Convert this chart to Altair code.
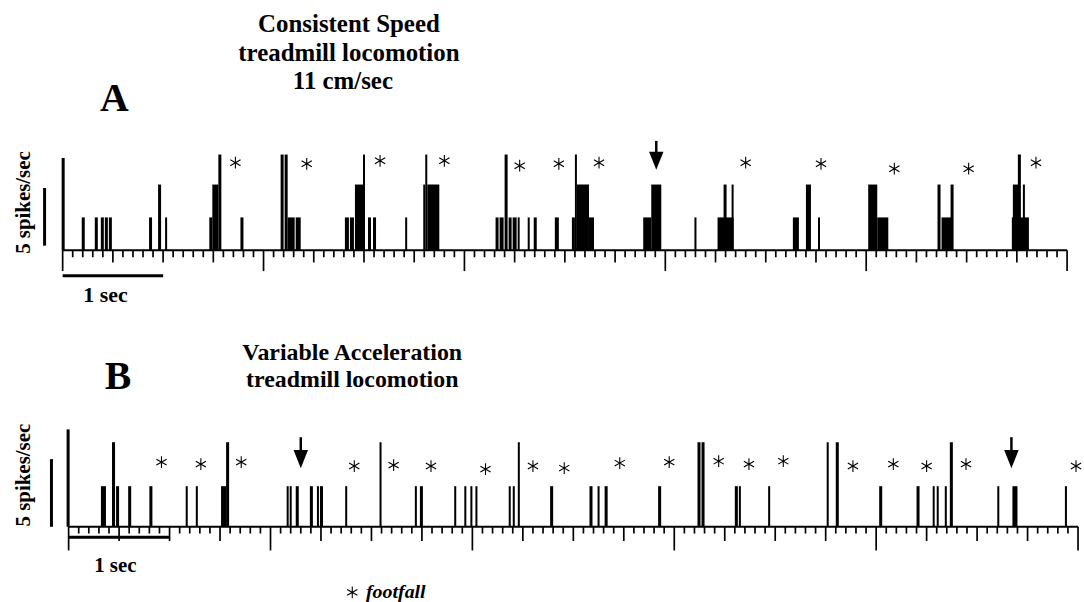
import altair as alt
import pandas as pd

FONT = "Liberation Serif"

# ---------------- Panel A : consistent speed (time in s, rate in spikes/s) -------------
A_ON = [-0.01, 0.19, 0.32, 0.38, 0.42, 0.46, 0.86, 0.95, 1.02, 1.46, 1.49, 1.55, 1.77,
        2.17, 2.21, 2.24, 2.32, 2.81, 2.86, 2.91, 2.99, 3.04, 3.09, 3.41, 3.59, 3.61,
        3.63, 4.31, 4.35, 4.40, 4.44, 4.48, 4.53, 4.63, 4.69, 4.90, 5.07, 5.10, 5.12,
        5.24, 5.78, 5.86, 6.29, 6.52, 6.58, 6.66, 7.27, 7.40, 7.52, 8.02, 8.11, 8.71,
        8.75, 8.84, 9.45, 9.46, 9.51, 9.56]
A_OFF = [0.02, 0.22, 0.35, 0.41, 0.45, 0.49, 0.89, 0.98, 1.04, 1.49, 1.55, 1.58, 1.80,
         2.20, 2.24, 2.31, 2.37, 2.85, 2.90, 2.99, 3.01, 3.07, 3.12, 3.43, 3.61, 3.63,
         3.75, 4.34, 4.39, 4.43, 4.47, 4.52, 4.55, 4.65, 4.72, 4.94, 5.10, 5.12, 5.24,
         5.29, 5.86, 5.96, 6.31, 6.68, 6.61, 6.68, 7.33, 7.45, 7.54, 8.11, 8.22, 8.74,
         8.85, 8.87, 9.62, 9.52, 9.54, 9.58]
A_RATE = [8.0, 2.85, 2.85, 2.85, 2.85, 2.85, 2.85, 5.7, 2.85, 2.85, 5.7, 8.3, 2.85,
          8.3, 8.3, 2.85, 2.85, 2.85, 2.85, 5.7, 8.3, 2.85, 2.85, 2.85, 5.7, 8.3,
          5.7, 2.85, 2.85, 8.3, 2.85, 2.85, 2.85, 2.85, 2.85, 2.85, 2.85, 8.3, 5.7,
          2.85, 2.85, 5.7, 2.85, 2.85, 5.7, 5.7, 2.85, 5.7, 2.85, 5.7, 2.85, 5.7,
          2.85, 5.7, 2.85, 5.7, 8.3, 5.7]
A_FOOT_T = [1.72, 2.43, 3.16, 3.80, 4.55, 4.94, 5.34, 6.80, 7.55, 8.28, 9.02, 9.69]
A_FOOT_Y = [7.59, 7.50, 7.76, 7.76, 7.33, 7.50, 7.59, 7.59, 7.50, 7.07, 7.07, 7.59]
A_ARROW_T = [5.91]

# ---------------- Panel B : variable acceleration -------------
B_ON = [-0.02, 0.32, 0.43, 0.47, 0.59, 0.80, 1.16, 1.26, 1.51, 1.56, 2.16, 2.19, 2.25,
        2.39, 2.46, 2.49, 2.74, 3.08, 3.43, 3.48, 3.82, 3.92, 3.98, 4.03, 4.36, 4.40,
        4.45, 4.77, 5.16, 5.24, 5.31, 5.84, 6.23, 6.27, 6.60, 6.64, 6.93, 7.51, 7.60,
        8.03, 8.40, 8.56, 8.60, 8.68, 8.73, 9.20, 9.35, 9.87]
B_OFF = [0.01, 0.37, 0.46, 0.50, 0.62, 0.83, 1.18, 1.28, 1.56, 1.59, 2.18, 2.21, 2.28,
         2.42, 2.48, 2.52, 2.76, 3.10, 3.45, 3.51, 3.84, 3.94, 4.00, 4.05, 4.38, 4.42,
         4.47, 4.80, 5.19, 5.26, 5.34, 5.87, 6.26, 6.30, 6.63, 6.66, 6.95, 7.53, 7.63,
         8.06, 8.43, 8.58, 8.62, 8.70, 8.76, 9.22, 9.40, 9.89]
B_RATE = [7.2, 3.0, 6.25, 3.0, 3.0, 3.0, 3.0, 3.0, 3.0, 6.25, 3.0, 3.0, 3.0,
          3.0, 3.0, 3.0, 3.0, 6.25, 3.0, 3.0, 3.0, 3.0, 3.0, 3.0, 3.0, 3.0,
          6.25, 3.0, 3.0, 3.0, 3.0, 3.0, 6.25, 6.25, 3.0, 3.0, 3.0, 6.25, 6.25,
          3.0, 3.0, 3.0, 3.0, 3.0, 6.25, 3.0, 3.0, 3.0]
B_FOOT_T = [0.92, 1.31, 1.71, 2.83, 3.22, 3.59, 4.13, 4.60, 4.91, 5.46, 5.95, 6.44,
            6.74, 7.08, 7.77, 8.17, 8.50, 8.89, 9.98]
B_FOOT_Y = [4.78, 4.63, 4.78, 4.49, 4.56, 4.49, 4.26, 4.49, 4.34, 4.71, 4.78, 4.85,
            4.63, 4.85, 4.49, 4.63, 4.49, 4.63, 4.49]
B_ARROW_T = [2.30, 9.34]

# time-base tick grid (0.1 s)
TICK_T = [round(i / 10, 1) for i in range(101)]

ASTERISK = "M0,-1L0,1M-0.87,-0.5L0.87,0.5M-0.87,0.5L0.87,-0.5"
ARROWHEAD = "M-0.8,-1L0.8,-1L0,1Z"


def tick_len(t, small, med, long):
    if abs(t / 2 - round(t / 2)) < 1e-6:
        return long
    if abs(t * 2 - round(t * 2)) < 1e-6:
        return med
    return small


def star_layer(df, xs, ys):
    return alt.Chart(df).mark_point(shape=ASTERISK, filled=False, color="black",
                                    strokeWidth=1.1, size=140, opacity=1).encode(
        x=alt.X("t:Q", scale=xs, axis=None), y=alt.Y("y:Q", scale=ys, axis=None))


def build_panel(on, off, rate, foot_t, foot_y, arrow_t, xdom, ydom, w, h,
                tick_sizes, trace_end, sbar_y, vbar_t, vbar_y, arrow_geo, texts,
                extra=None):
    xs = alt.Scale(domain=xdom, nice=False, zero=False)
    ys = alt.Scale(domain=ydom, nice=False, zero=False)

    spikes = pd.DataFrame({"t0": on, "t1": off, "rate": rate, "z": 0.0})
    bars = alt.Chart(spikes).mark_rect(color="black").encode(
        x=alt.X("t0:Q", scale=xs, axis=None), x2="t1:Q",
        y=alt.Y("z:Q", scale=ys, axis=None), y2="rate:Q")

    base_df = pd.DataFrame({"a": [0.0], "b": [trace_end], "y": [0.0]})
    base = alt.Chart(base_df).mark_rule(color="black", strokeWidth=2).encode(
        x=alt.X("a:Q", scale=xs, axis=None), x2="b:Q",
        y=alt.Y("y:Q", scale=ys, axis=None))

    tdf = pd.DataFrame({"t": TICK_T,
                        "y0": [0.0] * len(TICK_T),
                        "y1": [-tick_len(t, *tick_sizes) for t in TICK_T]})
    ticks = alt.Chart(tdf).mark_rule(color="black", strokeWidth=1.7).encode(
        x=alt.X("t:Q", scale=xs, axis=None),
        y=alt.Y("y0:Q", scale=ys, axis=None), y2="y1:Q")

    # 1-second horizontal bar and 5 spikes/sec vertical bar
    sb = pd.DataFrame({"a": [0.0], "b": [1.0], "y": [sbar_y]})
    sbar = alt.Chart(sb).mark_rule(color="black", strokeWidth=3).encode(
        x=alt.X("a:Q", scale=xs, axis=None), x2="b:Q",
        y=alt.Y("y:Q", scale=ys, axis=None))
    vb = pd.DataFrame({"t": [vbar_t], "y0": [vbar_y], "y1": [vbar_y + 5.0]})
    vbar = alt.Chart(vb).mark_rule(color="black", strokeWidth=3).encode(
        x=alt.X("t:Q", scale=xs, axis=None),
        y=alt.Y("y0:Q", scale=ys, axis=None), y2="y1:Q")

    feet = star_layer(pd.DataFrame({"t": foot_t, "y": foot_y}), xs, ys)

    shaft_top, shaft_bot, head_y = arrow_geo
    adf = pd.DataFrame({"t": arrow_t, "s0": [shaft_top] * len(arrow_t),
                        "s1": [shaft_bot] * len(arrow_t), "h": [head_y] * len(arrow_t)})
    shaft = alt.Chart(adf).mark_rule(color="black", strokeWidth=2.5).encode(
        x=alt.X("t:Q", scale=xs, axis=None),
        y=alt.Y("s0:Q", scale=ys, axis=None), y2="s1:Q")
    head = alt.Chart(adf).mark_point(shape=ARROWHEAD, filled=True, color="black",
                                       size=330, opacity=1).encode(
        x=alt.X("t:Q", scale=xs, axis=None), y=alt.Y("h:Q", scale=ys, axis=None))

    layers = [bars, base, ticks, sbar, vbar, feet, shaft, head]
    for spec in texts:
        d = pd.DataFrame({"t": [spec["t"]], "y": [spec["y"]], "label": [spec["text"]]})
        layers.append(alt.Chart(d).mark_text(
            font=FONT, fontWeight="bold", fontSize=spec["size"], color="black",
            align=spec.get("align", "center"), baseline=spec.get("baseline", "alphabetic"),
            angle=spec.get("angle", 0), fontStyle=spec.get("style", "normal")).encode(
            x=alt.X("t:Q", scale=xs, axis=None), y=alt.Y("y:Q", scale=ys, axis=None),
            text="label:N"))
    if extra is not None:
        layers.append(star_layer(pd.DataFrame({"t": [e[0] for e in extra],
                                               "y": [e[1] for e in extra]}), xs, ys))
    return alt.layer(*layers).properties(width=w, height=h)


A_TEXTS = [
    {"text": "Consistent Speed", "t": 2.85, "y": 18.88, "size": 25},
    {"text": "treadmill locomotion", "t": 2.85, "y": 16.38, "size": 25},
    {"text": "11 cm/sec", "t": 2.79, "y": 13.97, "size": 25},
    {"text": "A", "t": 0.515, "y": 12.07, "size": 40},
    {"text": "1 sec", "t": 0.426, "y": -4.48, "size": 22},
    {"text": "5 spikes/sec", "t": -0.386, "y": 4.14, "size": 21, "angle": 270,
     "baseline": "middle"},
]
B_TEXTS = [
    {"text": "Variable Acceleration", "t": 2.81, "y": 12.35, "size": 24},
    {"text": "treadmill locomotion", "t": 2.81, "y": 10.37, "size": 24},
    {"text": "B", "t": 0.49, "y": 10.15, "size": 40},
    {"text": "1 sec", "t": 0.463, "y": -3.31, "size": 21},
    {"text": "5 spikes/sec", "t": -0.443, "y": 3.82, "size": 21, "angle": 270,
     "baseline": "middle"},
    {"text": "footfall", "t": 2.946, "y": -5.29, "size": 20, "align": "left",
     "style": "italic"},
]

panel_a = build_panel(A_ON, A_OFF, A_RATE, A_FOOT_T, A_FOOT_Y, A_ARROW_T,
                      xdom=[-0.6238, 10.109], ydom=[-5.17, 21.55], w=1084, h=310,
                      tick_sizes=(0.6, 1.05, 1.8), trace_end=10.0, sbar_y=-2.2,
                      vbar_t=-0.18, vbar_y=0.4, arrow_geo=(9.48, 8.45, 7.76),
                      texts=A_TEXTS)
panel_b = build_panel(B_ON, B_OFF, B_RATE, B_FOOT_T, B_FOOT_Y, B_ARROW_T,
                      xdom=[-0.6798, 10.0], ydom=[-5.44, 16.03], w=1084, h=292,
                      tick_sizes=(0.5, 1.05, 1.75), trace_end=10.0, sbar_y=-0.77,
                      vbar_t=-0.17, vbar_y=0.0, arrow_geo=(6.62, 5.59, 5.0),
                      texts=B_TEXTS, extra=[(2.81, -4.85)])

chart = alt.vconcat(panel_a, panel_b, spacing=0).properties(
    padding=0, background="white").configure_view(stroke=None)

chart.save("out.html", embed_options={"renderer": "svg", "actions": False})
